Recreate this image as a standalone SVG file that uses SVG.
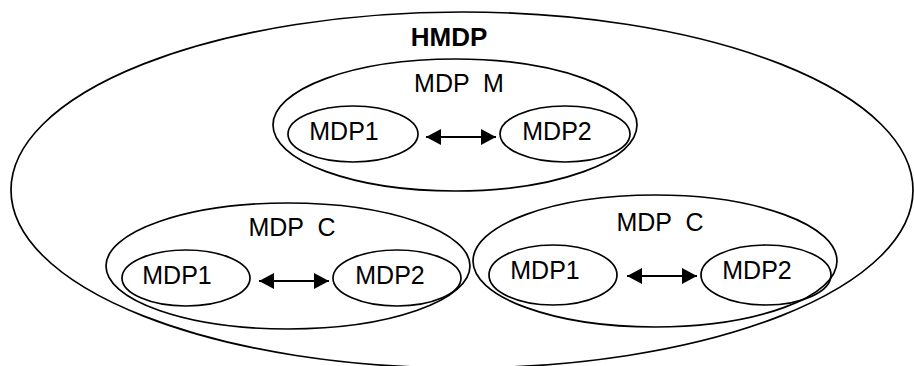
<svg xmlns="http://www.w3.org/2000/svg" width="914" height="366" viewBox="0 0 914 366">
<style>
.e{fill:none;stroke:#000;stroke-width:1.7}
.t{font-family:"Liberation Sans",Arial,sans-serif;font-size:25px;text-anchor:middle;fill:#000}
.b{font-weight:bold;font-size:26px}
.c{stroke:#000;stroke-width:2;fill:none}
</style>
<defs>
<marker id="ah" markerUnits="userSpaceOnUse" markerWidth="15" markerHeight="16" refX="15" refY="8" orient="auto-start-reverse" viewBox="0 0 15 16">
<path d="M0,0 L15,8 L0,16 z" fill="#000"/>
</marker>
</defs>
<rect width="914" height="366" fill="#fff"/>
<g id="hmdp">
<ellipse class="e" cx="462" cy="190" rx="451" ry="178"/>
<text class="t b" x="449" y="46">HMDP</text>
</g>
<g id="mdpM">
<ellipse class="e" cx="455" cy="125" rx="182" ry="66"/>
<text class="t" x="459" y="92" xml:space="preserve">MDP  M</text>
</g>
<g id="mdpM-1">
<ellipse class="e" cx="353" cy="134" rx="65" ry="28"/>
<text class="t" x="344" y="140">MDP1</text>
</g>
<g id="mdpM-2">
<ellipse class="e" cx="565" cy="134" rx="65" ry="28"/>
<text class="t" x="557" y="140">MDP2</text>
</g>
<g id="mdpC1">
<ellipse class="e" cx="288" cy="266" rx="182" ry="63"/>
<text class="t" x="292" y="236" xml:space="preserve">MDP  C</text>
</g>
<g id="mdpC1-1">
<ellipse class="e" cx="186" cy="278" rx="64" ry="28"/>
<text class="t" x="177" y="284">MDP1</text>
</g>
<g id="mdpC1-2">
<ellipse class="e" cx="397" cy="278" rx="64" ry="28"/>
<text class="t" x="390" y="284">MDP2</text>
</g>
<g id="mdpC2">
<ellipse class="e" cx="655" cy="261" rx="182" ry="66"/>
<text class="t" x="660" y="231" xml:space="preserve">MDP  C</text>
</g>
<g id="mdpC2-1">
<ellipse class="e" cx="553" cy="275" rx="64" ry="30"/>
<text class="t" x="545" y="279">MDP1</text>
</g>
<g id="mdpC2-2">
<ellipse class="e" cx="766" cy="275" rx="65" ry="30"/>
<text class="t" x="757" y="279">MDP2</text>
</g>
<g id="connectors">
<line class="c" x1="426" y1="137" x2="496" y2="137" marker-start="url(#ah)" marker-end="url(#ah)"/>
<line class="c" x1="259" y1="281" x2="329" y2="281" marker-start="url(#ah)" marker-end="url(#ah)"/>
<line class="c" x1="627" y1="276" x2="697" y2="276" marker-start="url(#ah)" marker-end="url(#ah)"/>
</g>
</svg>
